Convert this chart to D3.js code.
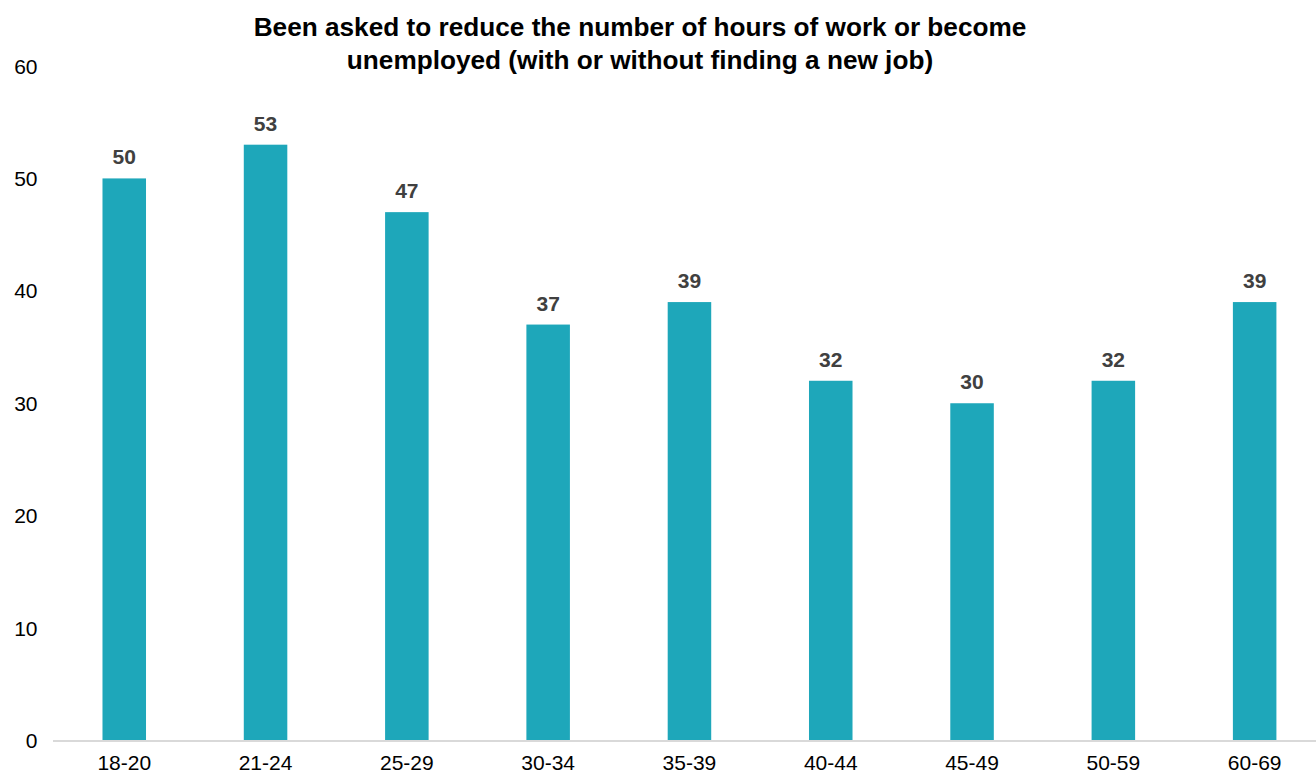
<!DOCTYPE html>
<html>
<head>
<meta charset="utf-8">
<script src="https://cdn.jsdelivr.net/npm/d3@7"></script>
<style>
  html, body { margin: 0; padding: 0; background: #fff; }
  svg { display: block; font-family: "Liberation Sans", Arial, Helvetica, sans-serif; }
</style>
</head>
<body>
<svg id="chart" width="1316" height="773"></svg>
<script>
const categories = ["18-20", "21-24", "25-29", "30-34", "35-39", "40-44", "45-49", "50-59", "60-69"];
const values = [50, 53, 47, 37, 39, 32, 30, 32, 39];
const yTicks = [0, 10, 20, 30, 40, 50, 60];
const titleLines = [
  "Been asked to reduce the number of hours of work or become",
  "unemployed (with or without finding a new job)"
];

const W = 1316, H = 773;
const svg = d3.select("#chart");

const x = d3.scaleBand()
  .domain(categories)
  .range([53.6, 1325.3])
  .paddingInner(0.692)
  .paddingOuter(0.346);

const y = d3.scaleLinear()
  .domain([0, 60])
  .range([740.5, 66]);

// Title
svg.append("g")
  .selectAll("text")
  .data(titleLines)
  .join("text")
  .attr("x", 640)
  .attr("y", (d, i) => 35.5 + i * 33)
  .attr("text-anchor", "middle")
  .attr("font-size", 26.2)
  .attr("font-weight", "bold")
  .attr("fill", "#000")
  .text(d => d);

// Y axis labels (no line, no ticks)
svg.append("g")
  .selectAll("text")
  .data(yTicks)
  .join("text")
  .attr("x", 37.5)
  .attr("y", d => y(d) + 7.5)
  .attr("text-anchor", "end")
  .attr("font-size", 21)
  .attr("fill", "#000")
  .text(d => d);

// Bars
svg.append("g")
  .selectAll("rect")
  .data(categories)
  .join("rect")
  .attr("x", d => x(d))
  .attr("width", x.bandwidth())
  .attr("y", (d, i) => y(values[i]))
  .attr("height", (d, i) => y(0) - y(values[i]))
  .attr("fill", "#1ea7ba");

// Baseline
svg.append("line")
  .attr("x1", 53)
  .attr("x2", W)
  .attr("y1", y(0) + 0.5)
  .attr("y2", y(0) + 0.5)
  .attr("stroke", "#d9d9d9")
  .attr("stroke-width", 2);

// Value labels
svg.append("g")
  .selectAll("text")
  .data(categories)
  .join("text")
  .attr("x", d => x(d) + x.bandwidth() / 2)
  .attr("y", (d, i) => y(values[i]) - 14)
  .attr("text-anchor", "middle")
  .attr("font-size", 21)
  .attr("font-weight", "bold")
  .attr("fill", "#404040")
  .text((d, i) => values[i]);

// X axis labels
svg.append("g")
  .selectAll("text")
  .data(categories)
  .join("text")
  .attr("x", d => x(d) + x.bandwidth() / 2)
  .attr("y", 769.5)
  .attr("text-anchor", "middle")
  .attr("font-size", 21)
  .attr("fill", "#000")
  .text(d => d);
</script>
</body>
</html>
